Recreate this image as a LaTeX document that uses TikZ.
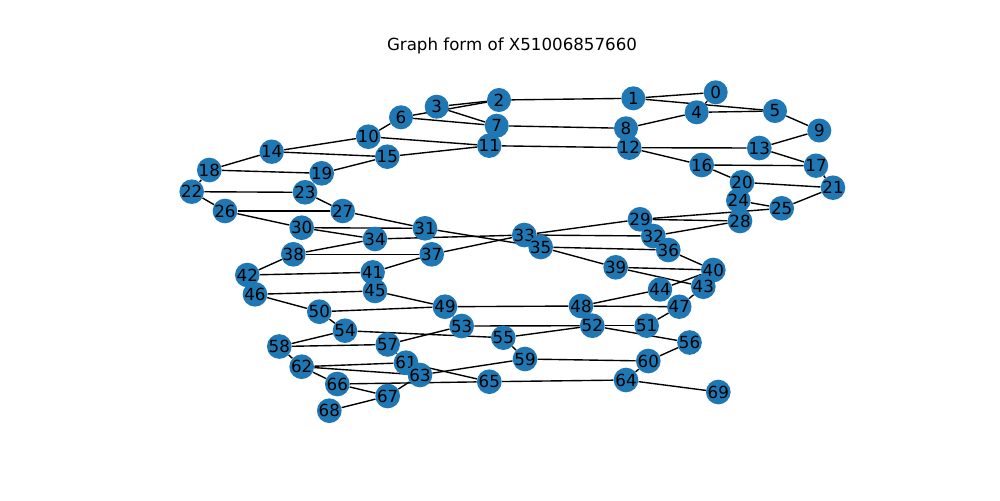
\documentclass[tikz,border=0pt]{standalone}
\usepackage{fontspec}
\setmainfont{DejaVu Sans}
\usetikzlibrary{backgrounds}
\definecolor{nodeblue}{HTML}{1F77B4}
\begin{document}
\begin{tikzpicture}[x=0.72pt,y=-0.72pt,
  vtx/.style={circle,fill=nodeblue,draw=none,minimum size=17.3pt,inner sep=0pt,font=\fontsize{12}{12}\selectfont},
  edge/.style={draw=black,line width=1pt}]
\useasboundingbox (0,0) rectangle (1000,500);
\node[font=\fontsize{12}{12}\selectfont] (title) at (512,46) {Graph form of X51006857660};
\node[vtx] (n0) at (715.7,92.3) {0};
\node[vtx] (n1) at (633.3,98.3) {1};
\node[vtx] (n2) at (499,100) {2};
\node[vtx] (n3) at (436.7,106.7) {3};
\node[vtx] (n4) at (696.7,112.3) {4};
\node[vtx] (n5) at (775,111) {5};
\node[vtx] (n6) at (401,117.3) {6};
\node[vtx] (n7) at (496.7,125.7) {7};
\node[vtx] (n8) at (626,128.3) {8};
\node[vtx] (n9) at (819.3,130.5) {9};
\node[vtx] (n10) at (368.3,136.7) {10};
\node[vtx] (n11) at (489.3,145.7) {11};
\node[vtx] (n12) at (629.3,147.7) {12};
\node[vtx] (n13) at (759.3,148) {13};
\node[vtx] (n14) at (271.7,151.7) {14};
\node[vtx] (n15) at (387.3,156.7) {15};
\node[vtx] (n16) at (701.7,165) {16};
\node[vtx] (n17) at (816,165.7) {17};
\node[vtx] (n18) at (209.3,170) {18};
\node[vtx] (n19) at (321.7,173.3) {19};
\node[vtx] (n20) at (742,182.3) {20};
\node[vtx] (n21) at (833,187.7) {21};
\node[vtx] (n22) at (191.7,191.7) {22};
\node[vtx] (n23) at (305,192.3) {23};
\node[vtx] (n24) at (738.3,200.5) {24};
\node[vtx] (n25) at (781.7,208.3) {25};
\node[vtx] (n26) at (225,211) {26};
\node[vtx] (n27) at (342.7,211) {27};
\node[vtx] (n28) at (740,221) {28};
\node[vtx] (n29) at (640,219.3) {29};
\node[vtx] (n30) at (301.7,227.7) {30};
\node[vtx] (n31) at (425,228.3) {31};
\node[vtx] (n32) at (653.3,236) {32};
\node[vtx] (n33) at (524.3,235) {33};
\node[vtx] (n34) at (375,239) {34};
\node[vtx] (n35) at (540.7,247) {35};
\node[vtx] (n36) at (668.3,250) {36};
\node[vtx] (n37) at (431.7,254.3) {37};
\node[vtx] (n38) at (293.3,254.3) {38};
\node[vtx] (n39) at (615.7,267.3) {39};
\node[vtx] (n40) at (713.3,270) {40};
\node[vtx] (n41) at (372.7,272.3) {41};
\node[vtx] (n42) at (247.3,275) {42};
\node[vtx] (n43) at (703.3,286.7) {43};
\node[vtx] (n44) at (660,289.5) {44};
\node[vtx] (n45) at (375,291) {45};
\node[vtx] (n46) at (255,294.3) {46};
\node[vtx] (n47) at (679.3,306.7) {47};
\node[vtx] (n48) at (581,306) {48};
\node[vtx] (n49) at (445,306.7) {49};
\node[vtx] (n50) at (319.3,311.7) {50};
\node[vtx] (n51) at (646.7,325.7) {51};
\node[vtx] (n52) at (592.3,325.7) {52};
\node[vtx] (n53) at (461.7,326) {53};
\node[vtx] (n54) at (345,330.7) {54};
\node[vtx] (n55) at (503.3,337.7) {55};
\node[vtx] (n56) at (689.5,342.5) {56};
\node[vtx] (n57) at (387.7,344.5) {57};
\node[vtx] (n58) at (279.3,346.5) {58};
\node[vtx] (n59) at (525,359) {59};
\node[vtx] (n60) at (648.3,361) {60};
\node[vtx] (n61) at (406,362.7) {61};
\node[vtx] (n62) at (301.7,366.7) {62};
\node[vtx] (n63) at (420,375) {63};
\node[vtx] (n64) at (626,380) {64};
\node[vtx] (n65) at (489.3,381.7) {65};
\node[vtx] (n66) at (337.3,384) {66};
\node[vtx] (n67) at (387.7,396) {67};
\node[vtx] (n68) at (329.3,410.7) {68};
\node[vtx] (n69) at (718.3,392) {69};
\begin{scope}[on background layer]
\foreach \a/\b in {0/1,0/4,1/2,1/5,2/3,2/6,3/7,4/5,4/8,5/9,6/7,6/10,7/8,7/11,8/12,9/13,
10/11,10/14,11/12,11/15,12/13,12/16,13/17,14/15,14/18,15/19,16/17,16/20,17/21,18/19,18/22,19/23,
20/21,20/24,21/25,22/23,22/26,23/27,24/25,24/28,25/29,26/27,26/30,27/31,28/29,28/32,29/33,
30/31,30/34,31/35,32/33,32/36,33/34,33/37,34/38,35/36,35/39,36/40,37/38,37/41,38/42,39/40,39/43,
40/44,41/42,41/45,42/46,43/47,44/48,45/46,45/49,46/50,47/48,47/51,48/52,48/49,49/50,49/53,50/54,
51/52,52/53,52/55,52/56,53/57,54/55,54/58,55/59,56/60,57/58,57/61,58/62,59/60,59/63,60/64,
61/62,61/65,62/63,62/66,63/67,64/65,65/66,64/69,66/67,67/68}
  \draw[edge] (n\a) -- (n\b);
\end{scope}
\end{tikzpicture}
\end{document}
